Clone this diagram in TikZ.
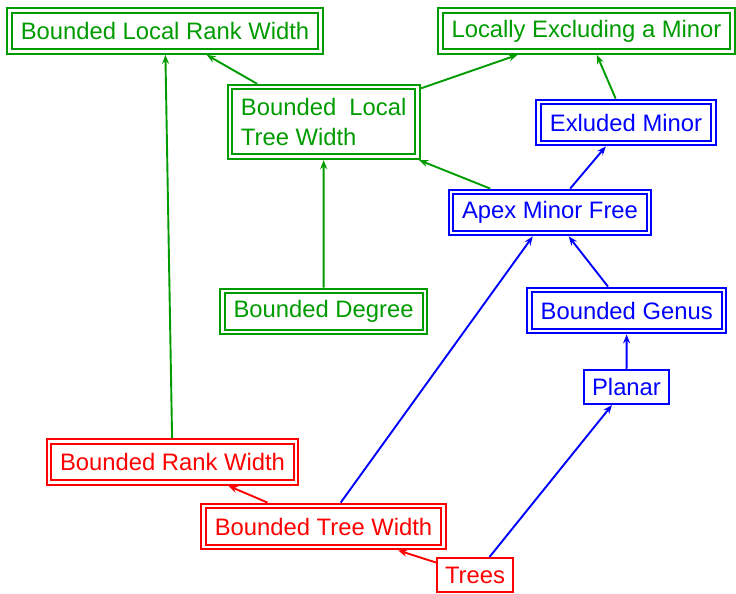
\documentclass[tikz,border=0pt]{standalone}
\usepackage{fontspec}
\setmainfont{Liberation Sans}
\usepackage{tikz}
\usetikzlibrary{arrows.meta}
\tikzset{box/.style = {draw, line width=1pt, inner xsep=3.9pt, inner ysep=0pt, minimum height=17pt, font=\fontsize{11.9}{15}\selectfont}}
\tikzset{dbox/.style = {box, double, double distance=1.25pt, outer sep=1.7pt, inner xsep=5.6pt, minimum height=20.5pt}}
\tikzset{imp/.style = {-{Stealth[length=4.5pt, width=3.5pt, inset=1.5pt]}, line width=0.95pt}}
\definecolor{mgreen}{RGB}{0, 155, 0}
\definecolor{mblue}{RGB}{0, 0, 255}
\definecolor{mred}{RGB}{255, 0, 0}

\begin{document}
\begin{tikzpicture}[x=0.5pt, y=-0.5pt]
    \useasboundingbox (0, 0) rectangle (736, 594);

    \node [dbox, mgreen] (blrw) at (165, 31) {Bounded Local Rank Width};
    \node [dbox, mgreen] (lem) at (586.5, 31) {Locally Excluding a Minor};
    \node [dbox, mgreen, align=left, minimum height=34.75pt] (bltw) at (323.7, 122) {Bounded\ \ Local\\Tree Width};
    \node [dbox, mgreen] (bd) at (323.6, 311.5) {Bounded Degree};

    \node [dbox, mblue] (em) at (626, 122.5) {Exluded Minor};
    \node [dbox, mblue] (amf) at (550, 212.5) {Apex Minor Free};
    \node [dbox, mblue] (bg) at (626.7, 310.5) {Bounded Genus};
    \node [box, mblue] (planar) at (626.5, 387) {Planar};

    \node [dbox, mred] (brw) at (172.5, 462) {Bounded Rank Width};
    \node [dbox, mred] (btw) at (323.5, 526.5) {Bounded Tree Width};
    \node [box, mred] (trees) at (475, 575) {Trees};

    \foreach \a/\b in {bltw/blrw, bltw/lem, em/lem, amf/bltw, bd/bltw, brw/blrw}
      \draw [imp, mgreen] (\a) -- (\b);
    \foreach \a/\b in {amf/em, bg/amf, planar/bg, btw/amf, trees/planar}
      \draw [imp, mblue] (\a) -- (\b);
    \foreach \a/\b in {btw/brw, trees/btw}
      \draw [imp, mred] (\a) -- (\b);
\end{tikzpicture}
\end{document}
